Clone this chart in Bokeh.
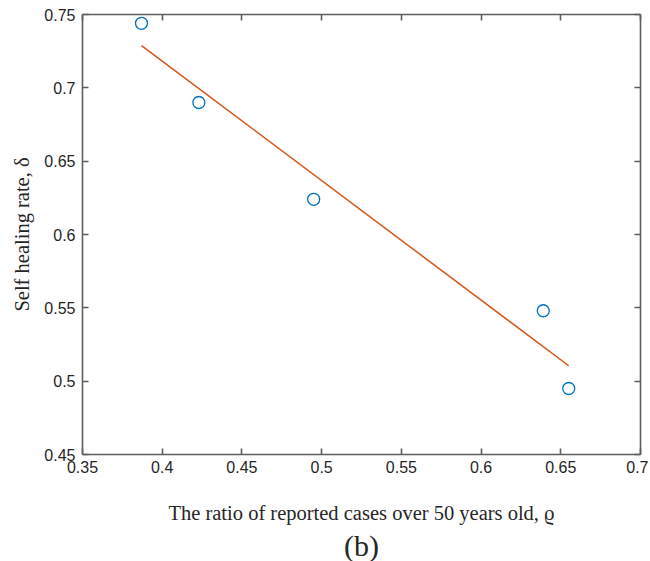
from bokeh.plotting import figure
from bokeh.models import LinearAxis, Range1d, FixedTicker, Title, CustomJSTickFormatter
from bokeh.embed import file_html
from bokeh.resources import INLINE

# data
ratio_x = [0.387, 0.423, 0.495, 0.639, 0.655]
healing_y = [0.744, 0.690, 0.624, 0.548, 0.495]
fit_x = [0.387, 0.655]
fit_y = [0.7288, 0.5105]
x_ticks = [0.35, 0.4, 0.45, 0.5, 0.55, 0.6, 0.65, 0.7]
y_ticks = [0.45, 0.5, 0.55, 0.6, 0.65, 0.7, 0.75]

AX = "#5e5e5e"
TXT = "#262626"

p = figure(frame_width=558, frame_height=440, output_backend="svg", toolbar_location=None,
           x_range=Range1d(0.35, 0.7), y_range=Range1d(0.45, 0.75),
           min_border_left=82, min_border_right=8, min_border_top=14, min_border_bottom=10,
           outline_line_color=None)
p.grid.visible = False

p.line(fit_x, fit_y, line_color="#D95319", line_width=1.5)
p.scatter(ratio_x, healing_y, marker="circle", size=12, fill_color=None,
          line_color="#0072BD", line_width=1.3)

def style(ax, ticks, labels=True):
    ax.ticker = FixedTicker(ticks=ticks)
    ax.axis_line_color = AX
    ax.axis_line_width = 1.6
    ax.major_tick_line_color = AX
    ax.major_tick_line_width = 1.6
    ax.major_tick_in = 6
    ax.major_tick_out = 0
    ax.minor_tick_line_color = None
    if labels:
        ax.major_label_text_font = "Liberation Sans"
        ax.major_label_text_font_size = "16px"
        ax.major_label_text_color = TXT
    else:
        ax.formatter = CustomJSTickFormatter(code="return '';")
        ax.major_label_standoff = 0

style(p.xaxis[0], x_ticks)
style(p.yaxis[0], y_ticks)
p.xaxis[0].major_label_standoff = 6
p.yaxis[0].major_label_standoff = 7

p.xaxis[0].axis_label = "The ratio of reported cases over 50 years old, ϱ"
p.yaxis[0].axis_label = "Self healing rate, δ"
for ax in (p.xaxis[0], p.yaxis[0]):
    ax.axis_label_text_font = "Liberation Serif"
    ax.axis_label_text_font_size = "20.5px"
    ax.axis_label_text_font_style = "normal"
    ax.axis_label_text_color = TXT
p.xaxis[0].axis_label_standoff = 26
p.yaxis[0].axis_label_standoff = 8

top = LinearAxis()
style(top, x_ticks, labels=False)
p.add_layout(top, "above")
right = LinearAxis()
style(right, y_ticks, labels=False)
p.add_layout(right, "right")

p.add_layout(Title(text="(b)", align="center", text_font="Liberation Serif",
                   text_font_size="30px", text_font_style="normal", text_color=TXT,
                   standoff=0), "below")

open("out.html", "w").write(file_html(p, INLINE))
